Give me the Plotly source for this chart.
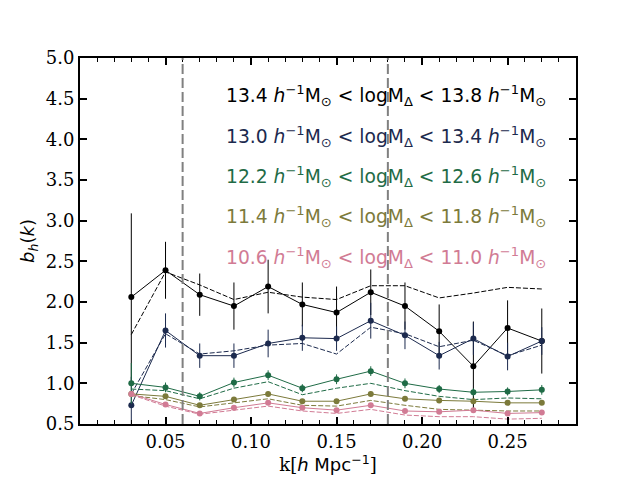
import plotly.graph_objects as go

k = [0.03, 0.05, 0.07, 0.09, 0.11, 0.13, 0.15, 0.17, 0.19, 0.21, 0.23, 0.25, 0.27]

# measured b_h(k), errors, and model (dashed) for each mass bin
b_138 = [2.06, 2.39, 2.09, 1.95, 2.19, 1.97, 1.87, 2.12, 1.95, 1.64, 1.21, 1.68, 1.52]
e_138 = [1.03, 0.35, 0.26, 0.29, 0.33, 0.27, 0.32, 0.28, 0.29, 0.33, 0.55, 0.34, 0.40]
m_138 = [1.60, 2.37, 2.21, 2.03, 2.12, 2.06, 2.03, 2.20, 2.20, 2.05, 2.11, 2.18, 2.16]

b_134 = [0.73, 1.65, 1.34, 1.34, 1.49, 1.56, 1.55, 1.77, 1.59, 1.34, 1.55, 1.33, 1.52]
e_134 = [0.35, 0.21, 0.15, 0.15, 0.17, 0.16, 0.15, 0.22, 0.17, 0.17, 0.20, 0.17, 0.17]
m_134 = [0.87, 1.61, 1.36, 1.40, 1.47, 1.49, 1.36, 1.69, 1.61, 1.45, 1.53, 1.34, 1.47]

b_126 = [1.00, 0.95, 0.84, 1.01, 1.10, 0.94, 1.05, 1.15, 1.00, 0.93, 0.89, 0.90, 0.92]
e_126 = [0.25, 0.06, 0.05, 0.06, 0.06, 0.05, 0.06, 0.06, 0.06, 0.05, 0.05, 0.05, 0.06]
m_126 = [0.93, 0.91, 0.81, 0.94, 1.02, 0.86, 0.94, 1.00, 0.91, 0.84, 0.80, 0.82, 0.81]

b_118 = [0.87, 0.84, 0.73, 0.80, 0.87, 0.78, 0.78, 0.87, 0.81, 0.79, 0.78, 0.76, 0.76]
e_118 = [0.03, 0.03, 0.02, 0.02, 0.03, 0.02, 0.02, 0.03, 0.02, 0.02, 0.02, 0.02, 0.02]
m_118 = [0.85, 0.80, 0.71, 0.76, 0.81, 0.73, 0.72, 0.79, 0.73, 0.68, 0.67, 0.66, 0.66]

b_110 = [0.87, 0.74, 0.63, 0.70, 0.76, 0.70, 0.67, 0.73, 0.66, 0.65, 0.67, 0.63, 0.64]
e_110 = [0.02, 0.02, 0.02, 0.02, 0.02, 0.02, 0.02, 0.02, 0.02, 0.02, 0.02, 0.02, 0.02]
m_110 = [0.86, 0.72, 0.62, 0.67, 0.72, 0.66, 0.63, 0.68, 0.61, 0.59, 0.59, 0.56, 0.57]

lows = ['13.4', '13.0', '12.2', '11.4', '10.6']
highs = ['13.8', '13.4', '12.6', '11.8', '11.0']
colors = ['#000000', '#1c2a4e', '#1f6b46', '#7c7a3b', '#d17b94']

x_ticks = [0.05, 0.10, 0.15, 0.20, 0.25]
y_ticks = [0.5, 1.0, 1.5, 2.0, 2.5, 3.0, 3.5, 4.0, 4.5, 5.0]

bins = [(b_138, e_138, m_138), (b_134, e_134, m_134), (b_126, e_126, m_126),
        (b_118, e_118, m_118), (b_110, e_110, m_110)]

fig = go.Figure()

for (b, e, m), c in zip(bins, colors):
    fig.add_trace(go.Scatter(x=k, y=m, mode='lines',
                             line=dict(color=c, width=1, dash='5px,2px')))
    fig.add_trace(go.Scatter(x=k, y=b, mode='lines+markers',
                             line=dict(color=c, width=1),
                             marker=dict(color=c, size=6),
                             error_y=dict(type='data', array=e, color=c,
                                          thickness=1, width=0)))

# scale cuts
for kc in [0.06, 0.18]:
    fig.add_shape(type='line', x0=kc, x1=kc, y0=0, y1=1, xref='x', yref='paper',
                  line=dict(color='#808080', width=2, dash='10px,4px'))

# label rows, in data coords
ys = [4.54, 4.04, 3.54, 3.05, 2.55]
for lo, hi, c, yy in zip(lows, highs, colors, ys):
    txt = (lo + '<i> h</i><sup>−1</sup>M<sub>⊙</sub> < logM<sub>Δ</sub> < '
           + hi + '<i> h</i><sup>−1</sup>M<sub>⊙</sub>')
    fig.add_annotation(text=txt, x=0.2736, y=yy, xref='x', yref='y',
                       xanchor='right', yanchor='middle', showarrow=False,
                       font=dict(family='DejaVu Sans', size=18.7, color=c))

# page body has an 8px margin, so the figure is shrunk by 8px
fig.update_layout(
    width=632, height=472,
    margin=dict(l=72, r=64, t=50, b=48),
    plot_bgcolor='white', paper_bgcolor='white',
    showlegend=False,
    font=dict(family='DejaVu Serif', size=18, color='black'),
    xaxis=dict(range=[0, 0.29], tickvals=x_ticks, ticktext=['%.2f' % v for v in x_ticks],
               ticks='inside', ticklen=7, tickwidth=1.5, tickcolor='black',
               showline=True, linewidth=2, linecolor='black', mirror='allticks',
               showgrid=False, zeroline=False,
               minor=dict(dtick=0.01, tick0=0, ticks='inside', ticklen=4, tickwidth=1,
                          tickcolor='black', showgrid=False),
               title=dict(text='k[<span style="font-family:DejaVu Sans"><i>h</i> Mpc<sup>−1</sup></span>]',
                          font=dict(family='DejaVu Serif', size=18), standoff=4)),
    yaxis=dict(range=[0.5, 5.0], tickvals=y_ticks, ticktext=['%.1f' % v for v in y_ticks],
               ticks='inside', ticklen=7, tickwidth=1.5, tickcolor='black',
               showline=True, linewidth=2, linecolor='black', mirror='allticks',
               showgrid=False, zeroline=False,
               title=dict(text='<i>b<sub>h</sub></i>(<i>k</i>)',
                          font=dict(family='DejaVu Sans', size=18), standoff=6)),
)

fig.write_html("out.html")
